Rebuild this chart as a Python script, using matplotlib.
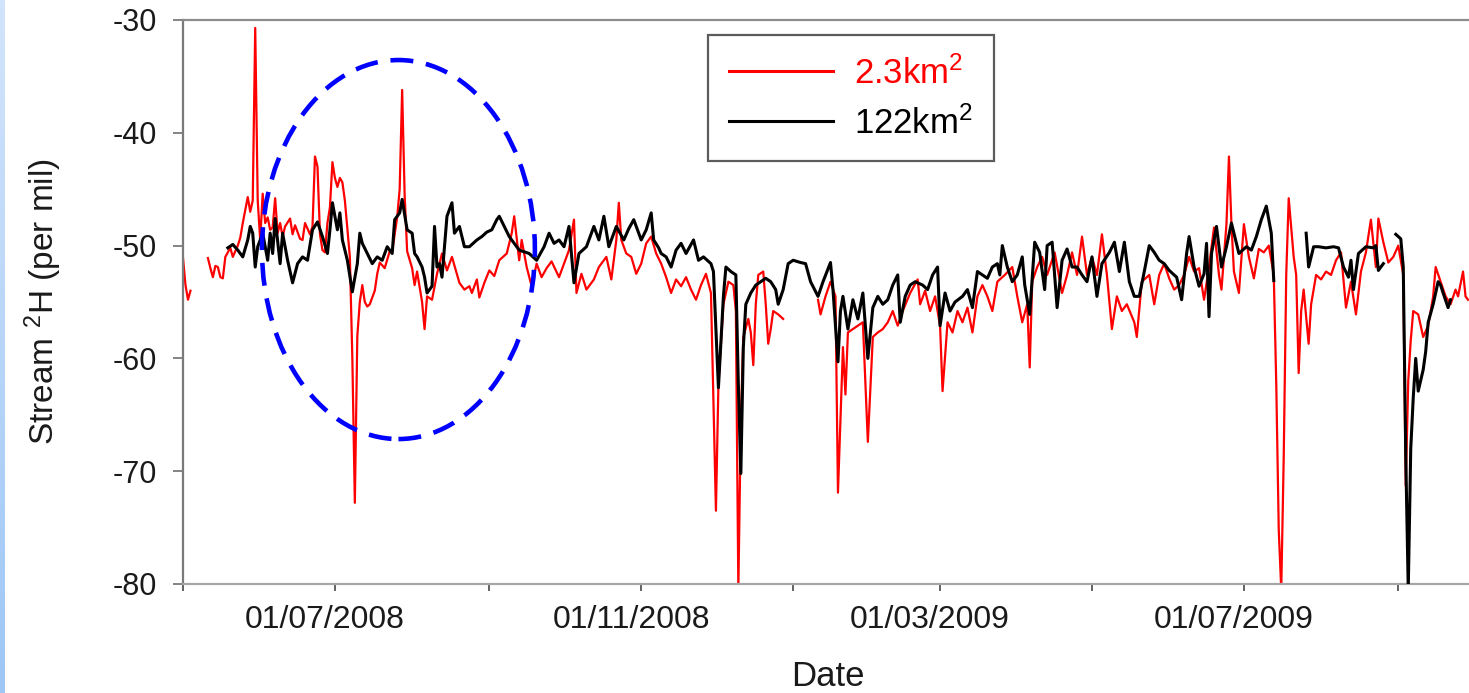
import numpy as np
import matplotlib
matplotlib.use("Agg")
import matplotlib.pyplot as plt
import matplotlib.dates as mdates
from matplotlib.patches import Ellipse
from matplotlib.transforms import ScaledTranslation

plt.rcParams['font.family'] = ['Liberation Sans', 'DejaVu Sans']
plt.rcParams['axes.unicode_minus'] = False

# data: day offsets from 01/05/2008, stream 2H (per mil); nan = gap in record
start = np.datetime64('2008-05-01')

red_day = [0, 1, 2, 3, 6, 10, 11, 12, 13, 14, 15, 16, 17, 18, 19, 20, 22, 23, 24, 26, 27, 28, 29, 30, 31, 32,
           33, 34, 35, 36, 37, 38, 39, 40, 41, 43, 44, 45, 47, 48, 49, 51, 52, 53, 54, 55, 56, 57, 58, 59, 60,
           61, 62, 63, 64, 65, 66, 67, 68, 69, 70, 71, 72, 73, 74, 75, 77, 78, 79, 81, 83, 84, 86, 87, 88, 89,
           90, 92, 93, 94, 96, 97, 98, 100, 102, 104, 106, 108, 111, 113, 115, 116, 118, 119, 121, 123, 125,
           127, 130, 132, 133, 135, 136, 138, 140, 142, 144, 146, 148, 151, 153, 155, 157, 158, 160, 162, 165,
           167, 170, 172, 174, 175, 176, 178, 180, 182, 184, 186, 188, 190, 192, 194, 196, 198, 200, 202, 204,
           206, 208, 210, 212, 214, 215, 217, 219, 221, 222, 223, 224, 225, 227, 228, 229, 230, 231, 233, 234,
           235, 236, 237, 239, 241, 248, 255, 256, 258, 260, 262, 263, 265, 266, 267, 269, 271, 273, 275, 277,
           279, 281, 283, 285, 287, 289, 292, 295, 296, 298, 300, 302, 304, 305, 307, 309, 311, 313, 315, 317,
           319, 321, 323, 325, 327, 330, 333, 335, 337, 339, 340, 341, 343, 345, 347, 350, 353, 355, 357, 359,
           361, 363, 365, 367, 369, 371, 373, 375, 377, 379, 382, 383, 385, 388, 390, 392, 394, 396, 398, 400,
           402, 404, 406, 408, 410, 412, 414, 416, 417, 419, 420, 421, 422, 424, 426, 428, 430, 432, 434, 436,
           438, 439, 440, 441, 442, 443, 444, 446, 447, 448, 449, 450, 452, 453, 455, 457, 459, 461, 463, 465,
           467, 469, 471, 473, 475, 477, 479, 480, 482, 484, 486, 488, 490, 491, 492, 493, 494, 496, 498, 500,
           502, 503, 505, 507, 509, 511, 512, 514, 515, 516]
red_val = [-51.1, -53.5, -54.8, -54.0, np.nan, -51.1, -52.0, -52.8, -51.8, -51.9, -52.8, -52.9, -51.0, -50.6,
           -50.2, -51.0, -50.0, -49.3, -48.0, -45.7, -47.0, -46.0, -30.7, -46.0, -49.5, -45.4, -48.0, -47.5,
           -48.6, -48.4, -45.8, -48.9, -48.0, -49.2, -48.3, -47.6, -49.0, -48.2, -49.4, -49.5, -48.0, -49.0,
           -48.3, -42.1, -43.0, -49.0, -50.4, -50.6, -48.0, -46.6, -42.6, -44.0, -44.8, -44.0, -44.4, -46.0,
           -48.5, -51.0, -60.0, -72.8, -58.0, -55.0, -53.5, -55.0, -55.4, -55.2, -54.0, -52.5, -51.5, -52.0,
           -50.5, -50.5, -47.5, -45.0, -36.2, -45.5, -50.5, -52.0, -53.5, -52.3, -55.0, -57.4, -54.5, -54.8,
           -52.5, -50.7, -52.2, -51.0, -53.3, -53.9, -53.6, -54.2, -53.0, -54.6, -53.3, -52.2, -52.7, -51.3,
           -50.7, -48.9, -47.4, -51.3, -49.5, -51.9, -53.6, -51.6, -52.8, -52.0, -51.4, -52.8, -51.6, -50.4,
           -47.7, -54.2, -52.5, -53.9, -53.0, -51.9, -51.0, -53.0, -49.5, -46.2, -49.5, -50.7, -51.0, -52.5,
           -51.6, -49.8, -49.2, -50.7, -51.6, -52.8, -54.2, -53.0, -53.6, -52.8, -53.9, -54.8, -53.5, -52.5,
           -54.2, -73.5, -62.3, -55.2, -53.2, -53.5, -55.8, -80.5, -65.5, -58.1, -56.5, -57.7, -60.6, -55.2,
           -52.6, -52.3, -55.2, -58.7, -57.4, -55.8, -56.1, -56.5, np.nan, -54.8, -56.1, -54.5, -53.2, -54.5,
           -71.9, -59.0, -63.2, -57.7, -57.4, -57.1, -56.8, -67.4, -58.1, -57.7, -57.4, -56.8, -55.8, -57.1,
           -55.8, -54.2, -53.0, -55.2, -54.0, -55.8, -54.5, -57.1, -62.9, -56.8, -57.7, -55.8, -56.8, -55.5,
           -57.7, -54.5, -53.5, -54.5, -55.8, -53.2, -52.6, -51.9, -54.5, -56.8, -55.2, -60.8, -53.2, -51.9,
           -51.0, -52.6, -50.6, -54.2, -52.6, -50.6, -52.6, -49.2, -52.6, -51.0, -52.6, -49.0, -52.6, -57.4,
           -54.5, -55.8, -55.2, -56.8, -58.1, -53.2, -52.6, -55.2, -52.6, -51.6, -52.9, -53.9, -53.5, -52.6,
           -51.0, -52.3, -52.0, -54.8, -51.9, -48.4, -52.6, -53.9, -48.1, -42.1, -48.1, -52.3, -54.2, -48.1,
           -51.0, -52.9, -50.3, -50.6, -50.0, -52.6, -62.3, -75.2, -80.5, -68.7, -52.6, -45.8, -51.0, -52.6,
           -61.3, -55.8, -53.9, -58.7, -55.2, -52.6, -53.0, -52.3, -52.6, -51.3, -50.6, -55.5, -53.2, -56.1,
           -52.3, -50.6, -47.7, -51.9, -47.6, -49.7, -51.5, -51.0, -50.0, -52.6, -71.3, -62.0, -58.4, -55.8,
           -56.1, -58.1, -57.1, -54.5, -51.9, -53.2, -54.5, -55.2, -53.9, -54.5, -52.3, -54.5, -54.8]

black_day = [18, 20, 22, 24, 26, 27, 28, 29, 30, 32, 34, 35, 36, 37, 39, 40, 42, 44, 46, 48, 50, 52, 54, 56,
             58, 59, 60, 62, 63, 64, 66, 68, 70, 71, 72, 74, 76, 78, 80, 82, 84, 85, 87, 88, 90, 92, 93, 94,
             96, 97, 98, 100, 101, 102, 103, 104, 106, 108, 109, 111, 113, 115, 118, 120, 122, 124, 126, 127,
             129, 131, 133, 135, 139, 142, 145, 147, 149, 151, 153, 155, 157, 159, 162, 165, 167, 169, 171,
             174, 177, 179, 181, 184, 186, 188, 189, 191, 192, 194, 196, 198, 200, 202, 205, 207, 209, 212,
             213, 214, 215, 217, 218, 220, 222, 223, 224, 225, 226, 228, 230, 232, 234, 236, 238, 239, 241,
             243, 245, 248, 250, 252, 255, 257, 260, 261, 263, 264, 265, 267, 269, 271, 273, 275, 277, 279,
             281, 283, 285, 287, 288, 290, 292, 294, 297, 299, 301, 303, 304, 306, 308, 310, 313, 315, 317,
             319, 321, 323, 325, 327, 328, 329, 331, 333, 335, 337, 338, 340, 342, 344, 346, 347, 349, 351,
             353, 355, 357, 359, 361, 363, 365, 367, 369, 372, 374, 376, 378, 380, 382, 384, 386, 388, 390,
             392, 394, 396, 399, 401, 403, 404, 406, 408, 410, 411, 412, 413, 415, 417, 419, 421, 423, 424,
             427, 429, 431, 433, 435, 437, 438, 444, 451, 452, 454, 456, 459, 462, 464, 466, 468, 469, 470,
             472, 475, 478, 479, 480, 482, 485, 487, 489, 490, 491, 492, 493, 494, 495, 496, 498, 499, 500,
             502, 504, 505, 506, 508, 509]
black_val = [-50.2, -49.9, -50.4, -51.0, -49.5, -48.3, -48.9, -51.9, -50.1, -48.9, -51.3, -48.9, -50.7,
             -47.6, -51.6, -48.9, -51.3, -53.3, -51.6, -51.0, -51.3, -48.6, -47.9, -49.2, -50.7, -48.6,
             -46.2, -48.6, -47.1, -49.5, -51.3, -54.1, -51.6, -48.9, -49.8, -50.7, -51.6, -51.0, -51.3,
             -50.1, -50.7, -47.7, -47.1, -45.9, -48.6, -48.9, -50.7, -51.0, -51.9, -52.8, -54.2, -53.6,
             -48.3, -51.9, -51.6, -52.8, -47.4, -46.2, -48.9, -48.3, -50.1, -50.1, -49.5, -49.2, -48.8,
             -48.6, -47.7, -47.4, -48.3, -49.2, -49.8, -50.4, -50.7, -51.3, -50.1, -48.9, -49.8, -49.5,
             -50.1, -48.3, -53.3, -50.7, -50.1, -48.3, -49.5, -47.4, -50.1, -48.3, -49.5, -48.5, -47.7,
             -49.5, -48.6, -47.1, -49.5, -50.2, -50.7, -51.0, -51.9, -50.4, -49.8, -50.7, -49.5, -51.3,
             -51.0, -51.6, -52.3, -57.4, -62.6, -54.5, -51.9, -52.3, -52.6, -62.3, -70.2, -59.0, -55.2,
             -54.2, -53.5, -53.2, -52.9, -53.2, -53.9, -55.2, -53.9, -51.6, -51.3, -51.5, -51.6, -53.2,
             -54.5, -53.2, -51.5, -53.9, -60.3, -55.8, -54.5, -57.4, -54.8, -56.5, -54.2, -60.0, -55.5,
             -54.5, -55.2, -54.8, -53.5, -52.6, -56.8, -54.5, -53.5, -53.2, -53.5, -53.9, -52.6, -51.9,
             -57.1, -54.2, -55.8, -55.0, -54.5, -53.9, -55.5, -52.3, -52.6, -52.9, -51.9, -51.6, -52.6,
             -50.0, -51.9, -53.2, -52.6, -51.0, -53.5, -56.1, -49.7, -50.6, -53.9, -50.0, -49.7, -55.5,
             -51.3, -50.3, -51.9, -51.9, -52.6, -53.2, -51.0, -54.5, -51.6, -50.6, -49.7, -52.3, -49.7,
             -53.2, -54.5, -54.5, -52.3, -50.0, -50.6, -51.3, -51.6, -52.2, -52.8, -54.8, -50.7, -49.2,
             -51.9, -53.6, -52.5, -49.8, -56.3, -50.7, -48.3, -51.9, -50.1, -48.0, -49.8, -50.7, -50.1,
             -50.4, -49.2, -47.7, -46.5, -48.9, -53.1, np.nan, -48.9, -51.9, -50.1, -50.1, -50.2, -50.1,
             -50.2, -51.9, -52.8, -51.3, -53.9, -50.7, -50.1, -50.2, -50.0, -52.2, -51.6, np.nan, -49.0,
             -49.4, -51.9, -68.7, -80.5, -68.0, -63.5, -60.0, -62.9, -61.0, -59.4, -56.8, -55.2, -53.2,
             -53.5, -54.2, -55.5, -54.8]

red_label = '2.3km$^2$'
black_label = '122km$^2$'

red_dates = start + np.array(red_day).astype('timedelta64[D]')
black_dates = start + np.array(black_day).astype('timedelta64[D]')

plt.rcParams['mathtext.fontset'] = 'custom'
plt.rcParams['mathtext.rm'] = 'Liberation Sans'
plt.rcParams['mathtext.it'] = 'Liberation Sans'
plt.rcParams['mathtext.default'] = 'regular'

fig = plt.figure(figsize=(14.69, 6.93), dpi=100)

# light blue strip down the left edge
strip = fig.add_axes([0, 0, 5 / 1469, 1])
strip.imshow(np.linspace(0, 1, 100).reshape(-1, 1), aspect='auto',
             cmap=matplotlib.colors.LinearSegmentedColormap.from_list('s', ['#d2e4fb', '#9ec7f6']))
strip.axis('off')

ax = fig.add_axes([183 / 1469, 109 / 693, 1290 / 1469, 564 / 693])

ax.plot(red_dates, red_val, color='#ff0000', lw=1.6, label=red_label, zorder=2)
ax.plot(black_dates, black_val, color='black', lw=2.2, label=black_label, zorder=3)

# dashed ellipse around the summer 2008 period
centre = mdates.date2num(start + np.timedelta64(86, 'D')) + 0.5
ell = Ellipse((centre, -50.35), width=109.6, height=33.6, fill=False,
              edgecolor='#0000ff', lw=3.3, linestyle=(0, (5, 2.8)), zorder=5)
ax.add_patch(ell)

ax.set_xlim(start, start + np.timedelta64(518, 'D'))
ax.set_ylim(-80, -30)
ax.set_yticks([-80, -70, -60, -50, -40, -30])

ax.xaxis.set_major_locator(mdates.MonthLocator(bymonth=[3, 7, 11]))
ax.xaxis.set_minor_locator(mdates.MonthLocator(bymonth=[1, 5, 9]))
ax.xaxis.set_major_formatter(mdates.DateFormatter('%d/%m/%Y'))

for side, c in [('left', '#7a7a7a'), ('top', '#8c8c8c'), ('bottom', '#a6a6a6')]:
    ax.spines[side].set_color(c)
    ax.spines[side].set_linewidth(1.6)
ax.spines['right'].set_visible(False)

ax.tick_params(axis='y', direction='out', length=7, width=1.3, color='#7a7a7a',
               labelsize=22, pad=12, labelcolor='#1a1a1a')
ax.tick_params(axis='x', which='both', direction='out', length=5, width=1.3, color='#555555',
               labelsize=23, pad=10, labelcolor='#1a1a1a')

offset = ScaledTranslation(-10 / 100, 0, fig.dpi_scale_trans)
for lbl in ax.get_xticklabels():
    lbl.set_transform(lbl.get_transform() + offset)

ax.set_xlabel('Date', fontsize=25, labelpad=18, color='#1a1a1a')
ax.set_ylabel('Stream $^2$H (per mil)', fontsize=24, color='#1a1a1a')
ax.yaxis.set_label_coords(-0.092, 0.5)

leg = ax.legend(loc='upper left', bbox_to_anchor=(708 / 1469, 1 - 35 / 693),
                bbox_transform=fig.transFigure, fontsize=25, frameon=True, fancybox=False,
                edgecolor='#333333', handlelength=3.0, handletextpad=0.6, borderpad=0.6,
                labelspacing=0.45, borderaxespad=0, labelcolor=['#ff0000', 'black'])
leg.get_frame().set_linewidth(1.6)
for h in leg.get_lines():
    h.set_linewidth(2.2)

fig.savefig('out.png', dpi=100)
